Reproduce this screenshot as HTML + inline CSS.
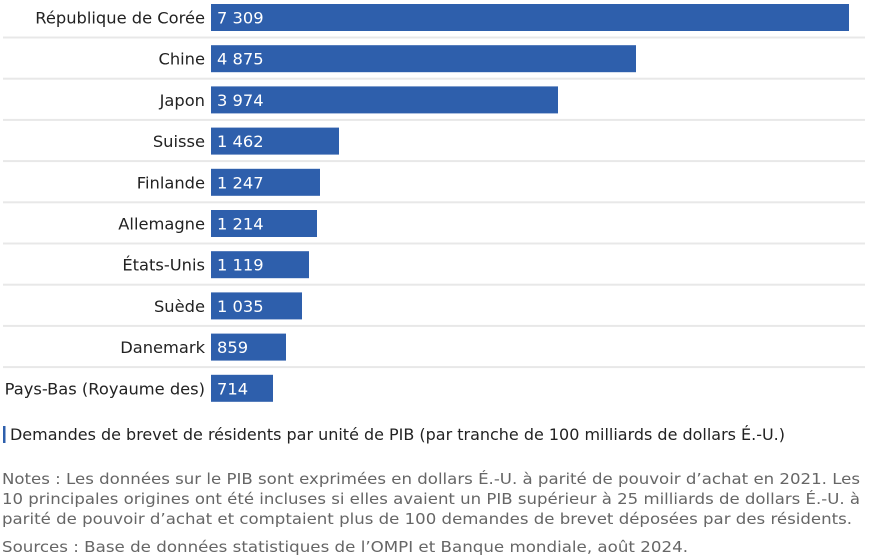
<!DOCTYPE html>
<html><head><meta charset="utf-8"><style>
body{margin:0;background:#fff;}
svg{display:block;font-family:"DejaVu Sans",sans-serif;}
</style></head><body>
<svg width="891" height="560" xmlns="http://www.w3.org/2000/svg">
<g fill="#e8e8e8">
<rect x="3" y="36.5" width="862" height="2"/>
<rect x="3" y="77.7" width="862" height="2"/>
<rect x="3" y="118.9" width="862" height="2"/>
<rect x="3" y="160.1" width="862" height="2"/>
<rect x="3" y="201.3" width="862" height="2"/>
<rect x="3" y="242.5" width="862" height="2"/>
<rect x="3" y="283.7" width="862" height="2"/>
<rect x="3" y="324.9" width="862" height="2"/>
<rect x="3" y="366.1" width="862" height="2"/>
</g>
<g fill="#2e5fac">
<rect x="211" y="4" width="638" height="27"/>
<rect x="211" y="45.2" width="425" height="27"/>
<rect x="211" y="86.4" width="347" height="27"/>
<rect x="211" y="127.6" width="128" height="27"/>
<rect x="211" y="168.8" width="109" height="27"/>
<rect x="211" y="210" width="106" height="27"/>
<rect x="211" y="251.2" width="98" height="27"/>
<rect x="211" y="292.4" width="91" height="27"/>
<rect x="211" y="333.6" width="75" height="27"/>
<rect x="211" y="374.8" width="62" height="27"/>
</g>
<g font-size="16.3" fill="#222" text-anchor="end">
<text x="205" y="23.5">République de Corée</text>
<text x="205" y="64.7">Chine</text>
<text x="205" y="105.9">Japon</text>
<text x="205" y="147.1">Suisse</text>
<text x="205" y="188.3">Finlande</text>
<text x="205" y="229.5">Allemagne</text>
<text x="205" y="270.7">États-Unis</text>
<text x="205" y="311.9">Suède</text>
<text x="205" y="353.1">Danemark</text>
<text x="205" y="394.3">Pays-Bas (Royaume des)</text>
</g>
<g font-size="16.3" fill="#fff">
<text x="217" y="23.5">7 309</text>
<text x="217" y="64.7">4 875</text>
<text x="217" y="105.9">3 974</text>
<text x="217" y="147.1">1 462</text>
<text x="217" y="188.3">1 247</text>
<text x="217" y="229.5">1 214</text>
<text x="217" y="270.7">1 119</text>
<text x="217" y="311.9">1 035</text>
<text x="217" y="353.1">859</text>
<text x="217" y="394.3">714</text>
</g>
<rect x="3" y="426" width="2.5" height="17" fill="#2e5fac"/>
<text x="10" y="440" font-size="16" fill="#222" textLength="775" lengthAdjust="spacingAndGlyphs">Demandes de brevet de résidents par unité de PIB (par tranche de 100 milliards de dollars É.-U.)</text>
<g font-size="15.5" fill="#666">
<text x="2" y="484" textLength="858" lengthAdjust="spacingAndGlyphs">Notes : Les données sur le PIB sont exprimées en dollars É.-U. à parité de pouvoir d’achat en 2021. Les</text>
<text x="2" y="504" textLength="858" lengthAdjust="spacingAndGlyphs">10 principales origines ont été incluses si elles avaient un PIB supérieur à 25 milliards de dollars É.-U. à</text>
<text x="2" y="524" textLength="850" lengthAdjust="spacingAndGlyphs">parité de pouvoir d’achat et comptaient plus de 100 demandes de brevet déposées par des résidents.</text>
<text x="2" y="552" textLength="686" lengthAdjust="spacingAndGlyphs">Sources : Base de données statistiques de l’OMPI et Banque mondiale, août 2024.</text>
</g>
</svg>
</body></html>
